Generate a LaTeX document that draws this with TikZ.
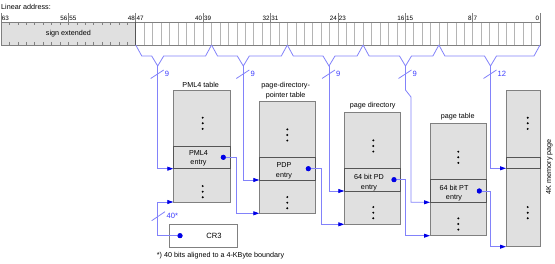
\documentclass[tikz,border=0pt]{standalone}
\usepackage{fontspec}
\setmainfont{Liberation Sans}
\usetikzlibrary{arrows.meta}
\definecolor{lnk}{RGB}{130,130,250}
\definecolor{tipc}{RGB}{0,0,230}
\definecolor{numc}{RGB}{60,60,255}
\definecolor{tblfill}{RGB}{224,224,224}
\definecolor{tbldraw}{RGB}{128,128,128}
\definecolor{entdraw}{RGB}{85,85,85}
\definecolor{cellc}{RGB}{180,180,180}
\begin{document}
\begin{tikzpicture}[x=1pt,y=-1pt,
  link/.style={draw=lnk, line width=0.8pt, -{Triangle[length=6pt,width=4pt,color=tipc]}},
  plain/.style={draw=lnk, line width=0.8pt},
  tbl/.style={draw=tbldraw, fill=tblfill, line width=0.7pt, anchor=north west, inner sep=0pt, outer sep=0pt},
  ent/.style={draw=entdraw, fill=tblfill, line width=0.7pt, anchor=north west, inner sep=0pt, outer sep=0pt},
  lbl/.style={font=\fontsize{7.2}{9.3}\selectfont, inner sep=0pt, align=center},
  bitn/.style={font=\fontsize{6.3}{7}\selectfont, inner sep=0.4pt},
  num/.style={font=\fontsize{7.6}{8}\selectfont, text=numc, inner sep=0pt},
  bdot/.style={circle, fill=tipc, inner sep=0pt, minimum size=5pt},
  vdots/.style={minimum width=3pt, minimum height=14pt, inner sep=0pt,
    path picture={\foreach \k in {-5.6,0,5.6} \fill ([yshift=\k pt]path picture bounding box.center) circle (1.1pt);}}
]
\useasboundingbox (0,0) rectangle (555,264);

% ---------- linear address bar ----------
\node[lbl, anchor=west] (title) at (1,6.7) {Linear address:};
\fill[tblfill] (1,22) rectangle (135.75,45);
\fill[white] (135.75,22) rectangle (540,45);
\foreach \b in {1,...,47} \draw[cellc, line width=0.5pt] ({540-\b*8.4219},22) -- ({540-\b*8.4219},45);
\foreach \b in {49,...,63} {
  \draw[gray, line width=0.5pt] ({540-\b*8.4219},22) -- ({540-\b*8.4219},25);
  \draw[gray, line width=0.5pt] ({540-\b*8.4219},42) -- ({540-\b*8.4219},45);
}
\draw[tbldraw, line width=0.7pt] (1,22) rectangle (540,45);
\draw[entdraw, line width=0.7pt] (135.75,22) -- (135.75,45);
\node[lbl] (sext) at (68.4,33.5) {sign extended};

% bit labels
\draw[gray, line width=0.5pt] (1,13) -- (1,22);
\node[bitn, anchor=west] (b63) at (1.3,18.3) {63};
\draw[gray, line width=0.5pt] (540,13) -- (540,22);
\node[bitn, anchor=east] (b0) at (539.7,18.3) {0};
\foreach \b in {56,48,40,32,24,16,8} {
  \pgfmathtruncatemacro\c{\b-1}
  \draw[gray, line width=0.5pt] ({540-\b*8.4219},13) -- ({540-\b*8.4219},22);
  \node[bitn, anchor=east] (bl\b) at ({540-\b*8.4219-0.3},18.3) {\b};
  \node[bitn, anchor=west] (br\b) at ({540-\b*8.4219+0.3},18.3) {\c};
}

% ---------- braces ----------
\foreach \xl/\xr/\t/\n in {135.75/211.55/157.7/1, 211.55/287.3/243.3/2, 287.3/363.1/329/3, 363.1/438.9/405.5/4, 438.9/540/490.5/5} {
  \draw[plain, line join=miter] (\xl,45) -- (\xl+6,56) -- (\t-6,56) -- (\t,66) -- (\t+6,56) -- (\xr-6,56) -- (\xr,45);
  \coordinate (tip\n) at (\t,66);
  \draw[plain] (\t-7,78.5) -- (\t+6,70);
}
\node[num, anchor=west] (n1) at ([shift={(7,8)}]tip1) {9};
\node[num, anchor=west] (n2) at ([shift={(7,8)}]tip2) {9};
\node[num, anchor=west] (n3) at ([shift={(7,8)}]tip3) {9};
\node[num, anchor=west] (n4) at ([shift={(7,8)}]tip4) {9};
\node[num, anchor=west] (n5) at ([shift={(7,8)}]tip5) {12};

% ---------- tables ----------
% PML4
\node[lbl] (t1) at (200.7,84.7) {PML4 table};
\node[tbl, minimum width=56.7pt, minimum height=112pt] (pml4) at (173.3,90) {};
\node[ent, minimum width=56.7pt, minimum height=22.7pt] (pml4e) at (173.3,146) {};
\node[lbl] (pml4t) at (198.5,158.3) {PML4\\entry};
\node[vdots] (v1a) at (202.7,123.3) {};
\node[vdots] (v1b) at (202.7,191.7) {};

% PDP
\node[lbl] (t2) at (285.7,90.5) {page-directory-\\pointer table};
\node[tbl, minimum width=56.4pt, minimum height=111.6pt] (pdp) at (259.3,101.7) {};
\node[ent, minimum width=56.4pt, minimum height=22.7pt] (pdpe) at (259.3,157.3) {};
\node[lbl] (pdpt) at (284,170.8) {PDP\\entry};
\node[vdots] (v2a) at (287.3,135) {};
\node[vdots] (v2b) at (287.3,202.7) {};

% PD
\node[lbl] (t3) at (372.7,105.7) {page directory};
\node[tbl, minimum width=56.4pt, minimum height=112pt] (pd) at (344.3,112.3) {};
\node[ent, minimum width=56.4pt, minimum height=22.7pt] (pde) at (344.3,168.3) {};
\node[lbl] (pdt) at (369,182.5) {64 bit PD\\entry};
\node[vdots] (v3a) at (373.3,146) {};
\node[vdots] (v3b) at (373.3,212.7) {};

% PT
\node[lbl] (t4) at (457.7,116.7) {page table};
\node[tbl, minimum width=56pt, minimum height=112.4pt] (pt) at (430,123.3) {};
\node[ent, minimum width=56pt, minimum height=23pt] (pte) at (430,179.3) {};
\node[lbl] (ptt) at (454,193.3) {64 bit PT\\entry};
\node[vdots] (v4a) at (458.3,157.3) {};
\node[vdots] (v4b) at (458.3,224) {};

% 4K page
\node[tbl, minimum width=34pt, minimum height=156.7pt] (pg) at (506,90) {};
\node[ent, minimum width=34pt, minimum height=11pt] (pge) at (506,157.3) {};
\node[vdots] (v5a) at (527.7,123.3) {};
\node[vdots] (v5b) at (527.7,212.7) {};
\node[lbl, rotate=90] (t5) at (549.3,166.7) {4K memory page};

% CR3
\node[draw=tbldraw, fill=white, line width=0.7pt, anchor=north west, inner sep=0pt, minimum width=67.4pt, minimum height=22.4pt] (cr3) at (169.3,224.3) {};
\node[lbl, font=\fontsize{7.6}{9}\selectfont] (cr3t) at (214,236) {CR3};
\node[lbl, anchor=west] (fn) at (156.7,255.7) {*) 40 bits aligned to a 4-KByte boundary};

% ---------- dots ----------
\node[bdot] (d0) at (180,235.7) {};
\node[bdot] (d1) at (223.3,157.3) {};
\node[bdot] (d2) at (308.3,168.7) {};
\node[bdot] (d3) at (394,179.7) {};
\node[bdot] (d4) at (479.3,191) {};

% ---------- index links ----------
\draw[link] (tip1) |- (pml4e.south west);
\draw[link] (tip2) |- (pdpe.south west);
\draw[link] (tip3) |- (pde.south west);
\draw[link] (tip4) -- ++(0,24) -- ++(5.5,7) |- (pte.south west);
\draw[link] (tip5) |- (pge.south west);

% ---------- base links ----------
\draw[link] (d0.center) -- ++(-22.3,0) |- (pml4.south west);
\draw[plain] (151.7,220.7) -- (165,211.7);
\node[num, anchor=west] (n40) at (166.5,216) {40*};
\draw[link] (d1.center) -- ++(13.4,0) |- (pdp.south west);
\draw[link] (d2.center) -- ++(13.4,0) |- (pd.south west);
\draw[link] (d3.center) -- ++(11.5,0) |- (pt.south west);
\draw[link] (d4.center) -- ++(11.5,0) |- (pg.south west);

% redraw dots on top
\foreach \d in {d0,d1,d2,d3,d4} \fill[tipc] (\d.center) circle (2.5pt);
\end{tikzpicture}
\end{document}
